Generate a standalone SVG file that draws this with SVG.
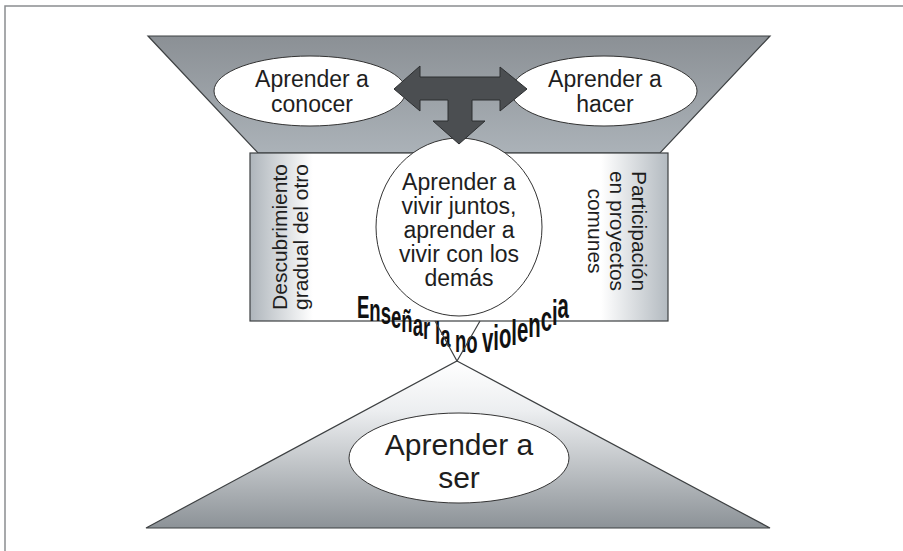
<svg xmlns="http://www.w3.org/2000/svg" width="903" height="551" viewBox="0 0 903 551">
  <defs>
    <linearGradient id="gTrap" x1="0" y1="0" x2="0" y2="1">
      <stop offset="0" stop-color="#8b9095"/>
      <stop offset="1" stop-color="#abb2b8"/>
    </linearGradient>
    <linearGradient id="gRect" x1="0" y1="0" x2="1" y2="0">
      <stop offset="0" stop-color="#aeb5bb"/>
      <stop offset="0.15" stop-color="#ffffff"/>
      <stop offset="0.84" stop-color="#ffffff"/>
      <stop offset="1" stop-color="#b3bac0"/>
    </linearGradient>
    <linearGradient id="gTri" x1="0" y1="0" x2="0" y2="1">
      <stop offset="0" stop-color="#ffffff"/>
      <stop offset="0.3" stop-color="#eceef0"/>
      <stop offset="1" stop-color="#8c9297"/>
    </linearGradient>
  </defs>
  <style>
    .shape { stroke: #3d4042; stroke-width: 1.2; }
    .oval { fill: #ffffff; stroke: #333333; stroke-width: 1; }
    .lbl { font-family: "Liberation Sans", Arial, sans-serif; fill: #1e1e1e; text-anchor: middle; }
    .t23 { font-size: 23px; }
    .t21 { font-size: 21px; }
    .t30 { font-size: 30px; }
    .warp { font-family: "Liberation Sans", Arial, sans-serif; font-weight: bold; font-size: 32px; fill: #111111; }
    .line { fill: none; stroke: #3d4042; stroke-width: 1.2; }
  </style>

  <rect width="903" height="551" fill="#ffffff"/>
  <path d="M 5,551 V 6 H 903" fill="none" stroke="#8a8d90" stroke-width="1.5"/>

  <g id="top-band">
    <polygon class="shape" fill="url(#gTrap)" points="148,36 770,36 660,153 258,153"/>
  </g>

  <g id="aprender-conocer">
    <ellipse class="oval" cx="310" cy="91" rx="96" ry="35"/>
    <text class="lbl t23" x="312" y="87">Aprender a</text>
    <text class="lbl t23" x="312" y="112">conocer</text>
  </g>

  <g id="aprender-hacer">
    <ellipse class="oval" cx="604" cy="91" rx="93" ry="35"/>
    <text class="lbl t23" x="605" y="87">Aprender a</text>
    <text class="lbl t23" x="605" y="112">hacer</text>
  </g>

  <g id="middle-band">
    <rect class="shape" fill="url(#gRect)" x="250" y="153" width="418" height="168"/>
    <text class="lbl t21" transform="translate(287,237) rotate(-90)">Descubrimiento</text>
    <text class="lbl t21" transform="translate(308,237) rotate(-90)">gradual del otro</text>
    <text class="lbl t21" transform="translate(632,231) rotate(90)">Participación</text>
    <text class="lbl t21" transform="translate(610,231) rotate(90)">en proyectos</text>
    <text class="lbl t21" transform="translate(588,231) rotate(90)">comunes</text>
  </g>

  <g id="aprender-vivir-juntos">
    <ellipse class="oval" cx="459" cy="227" rx="83" ry="89"/>
    <text class="lbl t23" x="459" y="190">Aprender a</text>
    <text class="lbl t23" x="459" y="214">vivir juntos,</text>
    <text class="lbl t23" x="459" y="238">aprender a</text>
    <text class="lbl t23" x="459" y="262">vivir con los</text>
    <text class="lbl t23" x="459" y="286">demás</text>
  </g>

  <g id="bottom-band">
    <polygon class="shape" fill="url(#gTri)" points="457,361 770,528 146,528"/>
  </g>

  <g id="aprender-ser">
    <ellipse class="oval" cx="459" cy="458" rx="110" ry="45"/>
    <text class="lbl t30" x="459" y="455">Aprender a</text>
    <text class="lbl t30" x="459" y="488">ser</text>
  </g>

  <g id="ensenar-no-violencia">
    <text class="warp" transform="scale(0.58,1)"><tspan x="615.5" y="318 321 324 328 332 336 339">Enseñar</tspan> <tspan x="750" y="344 347">la</tspan> <tspan x="784.5" y="352 353">no</tspan> <tspan x="831" y="352 350 348 345 342 337 331 325 318" font-size="35">violencia</tspan></text>
  </g>

  <g id="connectors">
    <polygon fill="#4b4e51" stroke="#2c2e30" stroke-width="1" points="394,89 420,66 420,77 500,77 500,67 527,89 500,111 500,100 472,100 472,121 485,121 459,144 433,121 448,121 448,100 420,100 420,111"/>
    <polyline class="line" points="435,321 457,361 480,321"/>
  </g>
</svg>
